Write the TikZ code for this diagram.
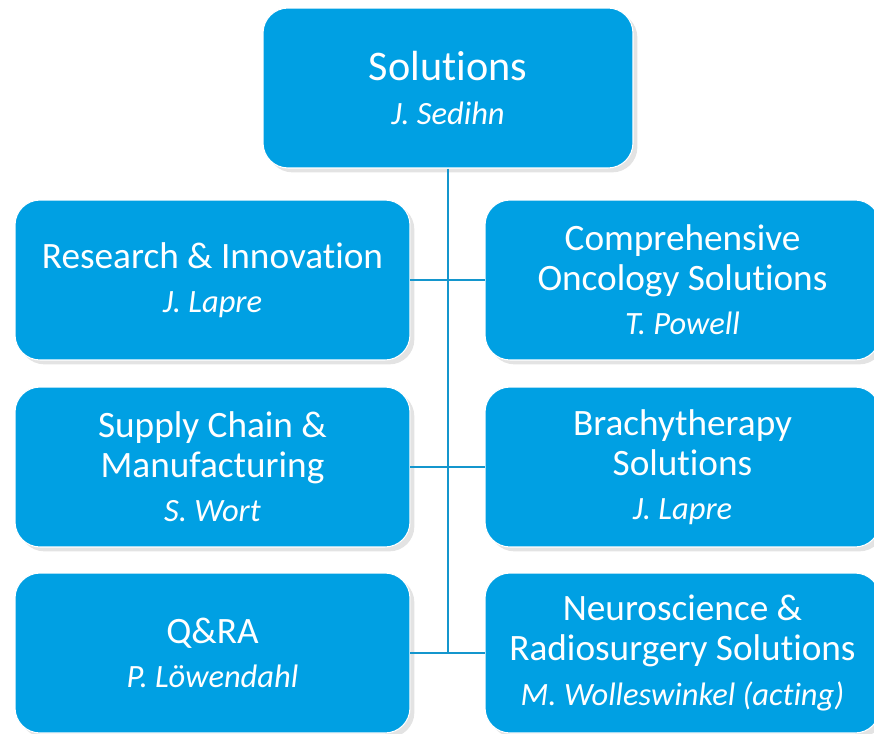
\documentclass[tikz,border=0pt]{standalone}
\usepackage{fontspec}
\setmainfont{Carlito}[Ligatures=NoCommon]
\usepackage{tikz}
\usetikzlibrary{positioning,shadows}
\definecolor{unitblue}{RGB}{0,160,227}
\definecolor{linkblue}{RGB}{20,150,205}
\newcommand{\headname}[1]{{\fontsize{18.5}{21}\selectfont\itshape #1}}

\tikzset{
  unit/.style={draw=white, line width=0.6pt, fill=unitblue, text=white,
    rounded corners=0.5cm, minimum width=7.9cm, minimum height=3.2cm,
    align=center, inner sep=2pt, font=\fontsize{21.2}{22.7}\selectfont,
    drop shadow={opacity=0.22, shadow xshift=2.5pt, shadow yshift=-2.5pt}},
  link/.style={draw=linkblue, line width=1.1pt}
}

\begin{document}
\begin{tikzpicture}[x=0.02cm, y=-0.02cm]
  \useasboundingbox (0,0) rectangle (874,733);
  \clip (0,0) rectangle (874,733);
  \node[unit, minimum width=7.4cm, font=\fontsize{24}{24.5}\selectfont] (sol) at (448,88)
    {Solutions\\ \headname{J. Sedihn}};
  \node[unit] (ri) at (212.5,280)
    {Research \& Innovation\\[2.5pt] \headname{J. Lapre}};
  \node[unit] (scm) at (212.5,467)
    {Supply Chain \&\\ Manufacturing\\[2.5pt] \headname{S. Wort}};
  \node[unit] (qra) at (212.5,653)
    {Q\&RA\\[2.5pt] \headname{P. Löwendahl}};
  \node[unit] (cos) at (682.5,280)
    {Comprehensive\\ Oncology Solutions\\[2.5pt] \headname{T. Powell}};
  \node[unit] (bts) at (682.5,467)
    {Brachytherapy\\ Solutions\\[2.5pt] \headname{J. Lapre}};
  \node[unit] (nrs) at (682.5,653)
    {Neuroscience \&\\ Radiosurgery Solutions\\[2.5pt] \headname{M. Wolleswinkel (acting)}};

  \draw[link] (sol.south) -- (sol.south |- qra);
  \draw[link] (ri.east) -- (cos.west);
  \draw[link] (scm.east) -- (bts.west);
  \draw[link] (qra.east) -- (nrs.west);
\end{tikzpicture}
\end{document}
